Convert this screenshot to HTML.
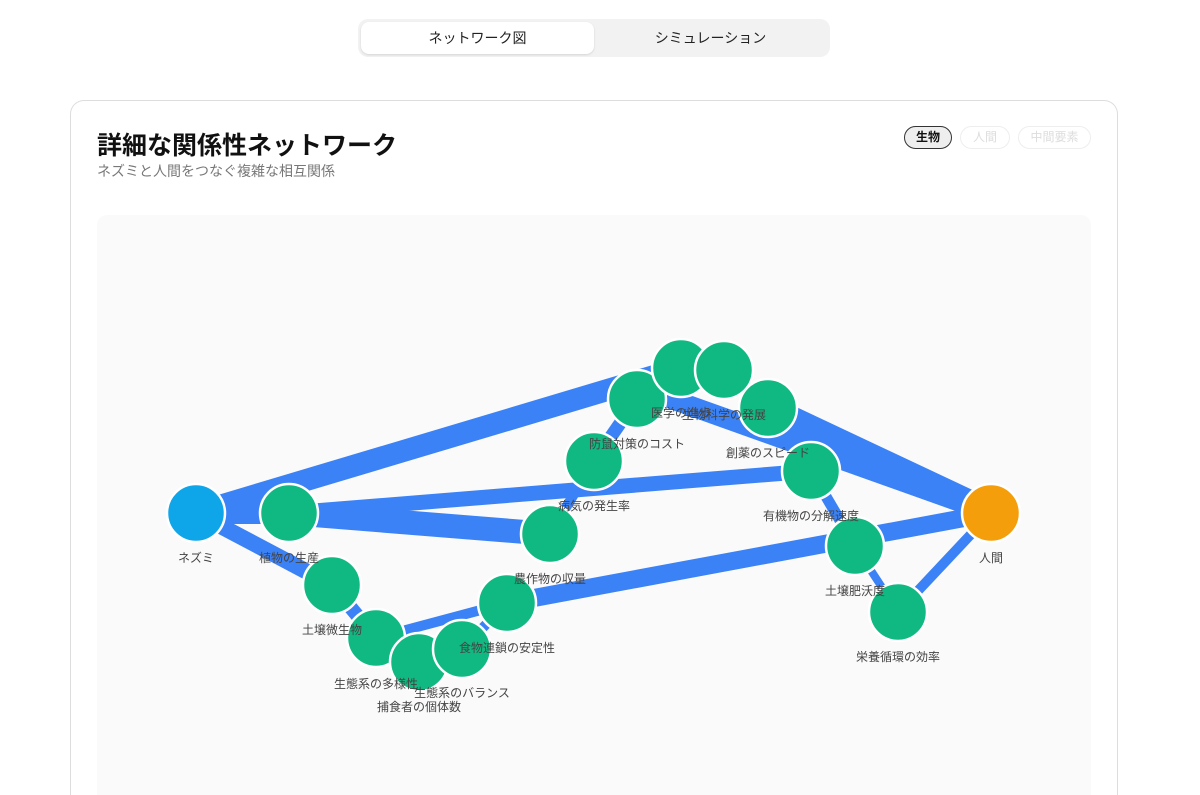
<!DOCTYPE html>
<html><head><meta charset="utf-8"><style>
*{box-sizing:border-box;margin:0;padding:0}
html,body{width:1200px;height:795px;overflow:hidden}
body{background:#fff;font-family:"Liberation Sans","Noto Sans CJK JP",sans-serif;position:relative}
.tabs{position:absolute;left:358px;top:19px;width:472px;height:38px;background:#f2f2f2;border-radius:10px}
.tab{position:absolute;top:3px;height:32px;width:233px;line-height:32px;text-align:center;font-size:14px;color:#222}
.tab.a{left:3px;background:#fff;border-radius:8px;box-shadow:0 1px 2px rgba(0,0,0,.12)}
.card{position:absolute;left:70px;top:100px;width:1048px;height:705px;border:1px solid #ddd;border-bottom:none;border-radius:14px 14px 0 0;background:#fff}
h1{position:absolute;left:97px;top:126px;font-size:25px;font-weight:bold;color:#111}
.sub{position:absolute;left:97px;top:161px;font-size:14px;color:#777}
.chip{position:absolute;top:126px;height:23px;border-radius:12px;font-size:12px;line-height:21px;text-align:center}
.graph{position:absolute;left:97px;top:215px;width:994px;height:590px;background:#fafafa;border-radius:10px 10px 0 0}
svg{position:absolute;left:0;top:0}
</style></head><body>
<div class="tabs"><div class="tab a">ネットワーク図</div><div class="tab" style="left:236px">シミュレーション</div></div>
<div class="card"></div>
<h1>詳細な関係性ネットワーク</h1>
<div class="sub">ネズミと人間をつなぐ複雑な相互関係</div>
<div class="chip" style="left:904px;width:48px;background:#eee;border:1.5px solid #333;color:#111;font-weight:bold">生物</div>
<div class="chip" style="left:960px;width:50px;border:1px solid #eee;color:#ddd">人間</div>
<div class="chip" style="left:1018px;width:73px;border:1px solid #eee;color:#ddd">中間要素</div>
<div class="graph"></div>
<svg width="1200" height="795" font-family="Liberation Sans, Noto Sans CJK JP, sans-serif" font-size="12" fill="#444">
<g stroke="#3b82f6">
<line x1="196" y1="513" x2="681" y2="368" stroke-width="22"/>
<line x1="660" y1="395" x2="991" y2="513" stroke-width="20"/>
<line x1="768" y1="408" x2="991" y2="513" stroke-width="26"/>
<line x1="196" y1="513" x2="289" y2="513" stroke-width="22"/>
<line x1="289" y1="513" x2="811" y2="471" stroke-width="15"/>
<line x1="289" y1="513" x2="550" y2="534" stroke-width="24"/>
<line x1="196" y1="513" x2="332" y2="585" stroke-width="16"/>
<line x1="332" y1="585" x2="376" y2="638" stroke-width="14"/>
<line x1="376" y1="638" x2="507" y2="603" stroke-width="10"/>
<line x1="462" y1="649" x2="507" y2="603" stroke-width="10"/>
<line x1="507" y1="603" x2="991" y2="513" stroke-width="18"/>
<line x1="594" y1="461" x2="550" y2="534" stroke-width="10"/>
<line x1="637" y1="399" x2="594" y2="461" stroke-width="13"/>
<line x1="811" y1="471" x2="855" y2="546" stroke-width="11"/>
<line x1="991" y1="513" x2="898" y2="612" stroke-width="10"/>
<line x1="855" y1="546" x2="898" y2="612" stroke-width="8"/>
</g>
<g stroke="#fff" stroke-width="2.5" fill="#10b981">
<circle cx="196" cy="513" r="29" fill="#0ea5e9"/>
<circle cx="991" cy="513" r="29" fill="#f59e0b"/>
<circle cx="289" cy="513" r="29"/>
<circle cx="332" cy="585" r="29"/>
<circle cx="376" cy="638" r="29"/>
<circle cx="419" cy="662" r="29"/>
<circle cx="462" cy="649" r="29"/>
<circle cx="637" cy="399" r="29"/>
<circle cx="681" cy="368" r="29"/>
<circle cx="724" cy="370" r="29"/>
<circle cx="768" cy="408" r="29"/>
<circle cx="811" cy="471" r="29"/>
<circle cx="855" cy="546" r="29"/>
<circle cx="898" cy="612" r="29"/>
<circle cx="594" cy="461" r="29"/>
<circle cx="550" cy="534" r="29"/>
<circle cx="507" cy="603" r="29"/>
</g>
<g text-anchor="middle">
<text x="196" y="562">ネズミ</text>
<text x="991" y="562">人間</text>
<text x="289" y="562">植物の生産</text>
<text x="332" y="634">土壌微生物</text>
<text x="376" y="688">生態系の多様性</text>
<text x="419" y="711">捕食者の個体数</text>
<text x="462" y="697">生態系のバランス</text>
<text x="637" y="448">防鼠対策のコスト</text>
<text x="681" y="417">医学の進歩</text>
<text x="724" y="419">生物科学の発展</text>
<text x="768" y="457">創薬のスピード</text>
<text x="811" y="520">有機物の分解速度</text>
<text x="855" y="595">土壌肥沃度</text>
<text x="898" y="661">栄養循環の効率</text>
<text x="594" y="510">病気の発生率</text>
<text x="550" y="583">農作物の収量</text>
<text x="507" y="652">食物連鎖の安定性</text>
</g>
</svg>
</body></html>
